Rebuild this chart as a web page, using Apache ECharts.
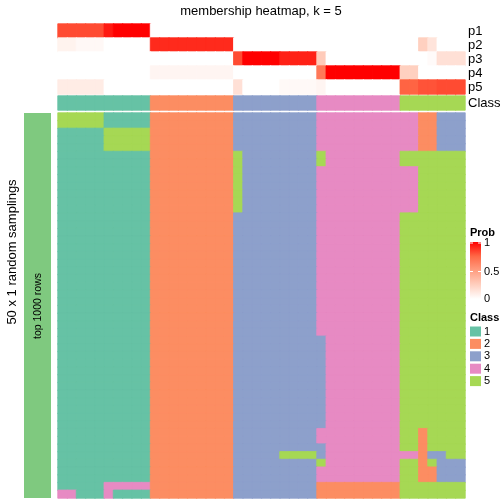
<!DOCTYPE html>
<html><head><meta charset="utf-8">
<script src="https://cdn.jsdelivr.net/npm/echarts@6/dist/echarts.min.js"></script>
<style>html,body{margin:0;padding:0;background:#fff}#c{width:504px;height:504px}</style>
</head><body><div id="c"></div><script>
const FONT = '"Liberation Sans", Arial, Helvetica, sans-serif';

// ---- data ----
const probRows = ['p1', 'p2', 'p3', 'p4', 'p5'];
const p1 = [0.82,0.82,0.82,0.82,0.82,0.94,1,1,1,1, 0,0,0,0,0,0,0,0,0, 0,0,0,0,0,0,0,0,0, 0,0,0,0,0,0,0,0,0, 0,0,0,0,0,0,0];
const p2 = [0.065,0.065,0.035,0.035,0.035,0,0,0,0,0, 0.9,0.9,0.9,0.9,0.9,0.9,0.9,0.9,0.9, 0,0,0,0,0,0,0,0,0, 0,0,0,0,0,0,0,0,0, 0,0,0.245,0.14,0,0,0];
const p3 = [0,0,0,0,0,0,0,0,0,0, 0,0,0,0,0,0,0,0,0, 0.82,1,1,1,1,0.92,0.92,0.92,0.92, 0.27,0,0,0,0,0,0,0,0, 0,0,0,0.025,0.16,0.16,0.16];
const p4 = [0,0,0,0,0,0,0,0,0,0, 0.05,0.05,0.05,0.05,0.05,0.05,0.05,0.05,0.05, 0,0,0,0,0,0,0,0,0, 0.67,1,1,1,1,1,1,1,1, 0.245,0.245,0,0,0,0,0];
const p5 = [0.1,0.1,0.1,0.1,0.1,0,0,0,0,0, 0,0,0,0,0,0,0,0,0, 0.16,0,0,0,0,0.03,0.03,0.03,0.03, 0.05,0,0,0,0,0,0,0,0, 0.76,0.76,0.8,0.8,0.82,0.82,0.82];
const probValues = [p1, p2, p3, p4, p5];

const classLabels = ['1', '2', '3', '4', '5'];
const classColors = ['#66C2A5', '#FC8D62', '#8DA0CB', '#E78AC3', '#A6D854'];
const columnClass = [1,1,1,1,1,1,1,1,1,1, 2,2,2,2,2,2,2,2,2, 3,3,3,3,3,3,3,3,3, 4,4,4,4,4,4,4,4,4, 5,5,5,5,5,5,5];

// 50 random samplings (rows) x 44 samples (columns); class per cell
const samplingRows = [
  '5555511111|222222222|333333333|444444444|4422333',
  '5555511111|222222222|333333333|444444444|4422333',
  '1111155555|222222222|333333333|444444444|4422333',
  '1111155555|222222222|333333333|444444444|4422333',
  '1111155555|222222222|333333333|444444444|4422333',
  '1111111111|222222222|533333333|544444444|5555555',
  '1111111111|222222222|533333333|544444444|5555555',
  '1111111111|222222222|533333333|444444444|4455555',
  '1111111111|222222222|533333333|444444444|4455555',
  '1111111111|222222222|533333333|444444444|4455555',
  '1111111111|222222222|533333333|444444444|4455555',
  '1111111111|222222222|533333333|444444444|4455555',
  '1111111111|222222222|533333333|444444444|4455555',
  '1111111111|222222222|333333333|444444444|5555555',
  '1111111111|222222222|333333333|444444444|5555555',
  '1111111111|222222222|333333333|444444444|5555555',
  '1111111111|222222222|333333333|444444444|5555555',
  '1111111111|222222222|333333333|444444444|5555555',
  '1111111111|222222222|333333333|444444444|5555555',
  '1111111111|222222222|333333333|444444444|5555555',
  '1111111111|222222222|333333333|444444444|5555555',
  '1111111111|222222222|333333333|444444444|5555555',
  '1111111111|222222222|333333333|444444444|5555555',
  '1111111111|222222222|333333333|444444444|5555555',
  '1111111111|222222222|333333333|444444444|5555555',
  '1111111111|222222222|333333333|444444444|5555555',
  '1111111111|222222222|333333333|444444444|5555555',
  '1111111111|222222222|333333333|444444444|5555555',
  '1111111111|222222222|333333333|444444444|5555555',
  '1111111111|222222222|333333333|344444444|5555555',
  '1111111111|222222222|333333333|344444444|5555555',
  '1111111111|222222222|333333333|344444444|5555555',
  '1111111111|222222222|333333333|344444444|5555555',
  '1111111111|222222222|333333333|344444444|5555555',
  '1111111111|222222222|333333333|344444444|5555555',
  '1111111111|222222222|333333333|344444444|5555555',
  '1111111111|222222222|333333333|344444444|5555555',
  '1111111111|222222222|333333333|344444444|5555555',
  '1111111111|222222222|333333333|344444444|5555555',
  '1111111111|222222222|333333333|344444444|5555555',
  '1111111111|222222222|333333333|344444444|5555555',
  '1111111111|222222222|333333333|444444444|5525555',
  '1111111111|222222222|333333333|444444444|5525555',
  '1111111111|222222222|333333333|344444444|5525555',
  '1111111111|222222222|333335555|344444444|4423355',
  '1111111111|222222222|333333333|544444444|5525333',
  '1111111111|222222222|333333333|444444444|5522333',
  '1111111111|222222222|333333333|444444444|5522333',
  '1111144444|222222222|333333333|222222222|5555555',
  '4411141111|222222222|333333333|222222222|5555555'
];

const probTicks = ['1', '0.5', '0'];

// ---- build ----
const nCol = columnClass.length;
const nRow = samplingRows.length;
const colCats = Array.from({length: nCol}, (_, i) => String(i));
const rowCats = Array.from({length: nRow}, (_, i) => String(i));
const probColors = ['#FFFFFF', '#FFCFBF', '#FF9E81', '#FF6846', '#FF0000'];

// thin same-coloured borders hide anti-aliasing seams between cells
const probData = [];
probValues.forEach((arr, r) => arr.forEach((v, c) => probData.push({
  value: [c, r, v], itemStyle: {borderColor: echarts.color.lerp(v, probColors), borderWidth: 0.8}
})));
const classCell = (c, r, v) => ({
  value: [c, r, v], itemStyle: {borderColor: classColors[v - 1], borderWidth: 0.8}
});
const classData = columnClass.map((v, c) => classCell(c, 0, v));
const mainData = [];
samplingRows.forEach((s, r) => {
  const row = s.replace(/\|/g, '');
  for (let c = 0; c < row.length; c++) mainData.push(classCell(c, r, Number(row[c])));
});

const L = 58, W = 407;

const hiddenX = (i) => ({gridIndex: i, type: 'category', data: colCats, show: false});
const rightY = (i, cats) => ({
  gridIndex: i, type: 'category', data: cats, inverse: true, position: 'right',
  axisLine: {show: false}, axisTick: {show: false}, splitLine: {show: false},
  axisLabel: {interval: 0, fontSize: 13, color: '#000', margin: 3, fontFamily: FONT}
});

const chart = echarts.init(document.getElementById('c'), null, {renderer: 'canvas'});
chart.setOption({
  animation: false,
  backgroundColor: '#fff',
  title: {
    text: 'membership heatmap, k = 5', left: 261, top: 5, padding: 0, textAlign: 'center',
    textStyle: {fontSize: 13, fontWeight: 'normal', color: '#000', fontFamily: FONT}
  },
  grid: [
    {left: L, width: W, top: 24, height: 70},
    {left: L, width: W, top: 96, height: 14},
    {left: L, width: W, top: 113, height: 385}
  ],
  xAxis: [hiddenX(0), hiddenX(1), hiddenX(2)],
  yAxis: [
    rightY(0, probRows),
    rightY(1, ['Class']),
    {gridIndex: 2, type: 'category', data: rowCats, inverse: true, show: false}
  ],
  visualMap: [
    {type: 'continuous', seriesIndex: 0, dimension: 2, min: 0, max: 1, show: false,
     inRange: {color: probColors}},
    {type: 'piecewise', seriesIndex: [1, 2], dimension: 2, orient: 'vertical', inverse: true, align: 'left',
     left: 470, top: 326, padding: 0, itemWidth: 11, itemHeight: 10, itemGap: 1.4, textGap: 3,
     itemSymbol: 'rect', selectedMode: false,
     textStyle: {fontSize: 11, color: '#000', fontFamily: FONT},
     pieces: classLabels.map((l, i) => ({value: i + 1, label: l, color: classColors[i]}))}
  ],
  series: [
    {type: 'heatmap', xAxisIndex: 0, yAxisIndex: 0, data: probData, progressive: 0,
     emphasis: {disabled: true}},
    {type: 'heatmap', xAxisIndex: 1, yAxisIndex: 1, data: classData, progressive: 0,
     emphasis: {disabled: true}},
    {type: 'heatmap', xAxisIndex: 2, yAxisIndex: 2, data: mainData, progressive: 0,
     emphasis: {disabled: true}}
  ],
  graphic: [
    // left annotation bar
    {type: 'rect', shape: {x: 24, y: 113, width: 27, height: 385}, style: {fill: '#7FC97F'}, silent: true},
    {type: 'text', x: 38, y: 306, rotation: Math.PI / 2,
     style: {text: 'top 1000 rows', fontSize: 10.5, fill: '#000', fontFamily: FONT, align: 'center', verticalAlign: 'middle'}},
    {type: 'text', x: 12, y: 252, rotation: Math.PI / 2,
     style: {text: '50 x 1 random samplings', fontSize: 13, fill: '#000', fontFamily: FONT, align: 'center', verticalAlign: 'middle'}},
    // Prob legend
    {type: 'text', x: 470, y: 233,
     style: {text: 'Prob', fontSize: 11, fontWeight: 'bold', fill: '#000', fontFamily: FONT, align: 'left', verticalAlign: 'middle'}},
    {type: 'rect', shape: {x: 470, y: 242, width: 11, height: 57},
     style: {fill: new echarts.graphic.LinearGradient(0, 1, 0, 0,
        probColors.map((c, i) => ({offset: i / (probColors.length - 1), color: c})))}},
    {type: 'line', shape: {x1: 470, y1: 243, x2: 473, y2: 243}, style: {stroke: '#fff', lineWidth: 1}},
    {type: 'line', shape: {x1: 478, y1: 243, x2: 481, y2: 243}, style: {stroke: '#fff', lineWidth: 1}},
    {type: 'line', shape: {x1: 470, y1: 271.5, x2: 473, y2: 271.5}, style: {stroke: '#fff', lineWidth: 1}},
    {type: 'line', shape: {x1: 478, y1: 271.5, x2: 481, y2: 271.5}, style: {stroke: '#fff', lineWidth: 1}},
    {type: 'text', x: 484, y: 243, style: {text: probTicks[0], fontSize: 11, fill: '#000', fontFamily: FONT, verticalAlign: 'middle'}},
    {type: 'text', x: 484, y: 271.5, style: {text: probTicks[1], fontSize: 11, fill: '#000', fontFamily: FONT, verticalAlign: 'middle'}},
    {type: 'text', x: 484, y: 299, style: {text: probTicks[2], fontSize: 11, fill: '#000', fontFamily: FONT, verticalAlign: 'middle'}},
    // Class legend title
    {type: 'text', x: 470, y: 318,
     style: {text: 'Class', fontSize: 11, fontWeight: 'bold', fill: '#000', fontFamily: FONT, align: 'left', verticalAlign: 'middle'}}
  ]
});
</script></body></html>
